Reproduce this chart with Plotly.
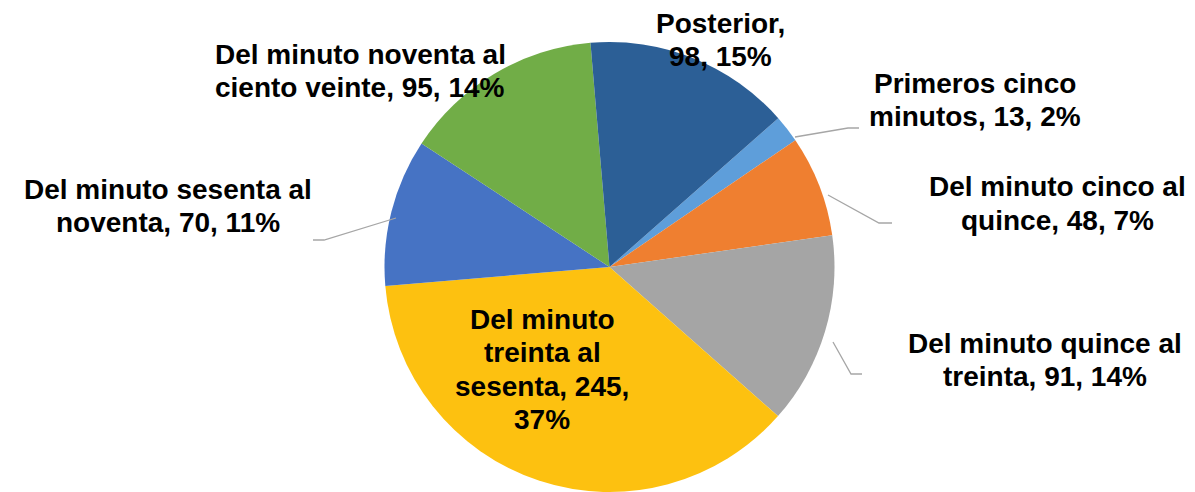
import textwrap
import plotly.graph_objects as go

# ---- data ----
labels = [
    "Primeros cinco minutos",
    "Del minuto cinco al quince",
    "Del minuto quince al treinta",
    "Del minuto treinta al sesenta",
    "Del minuto sesenta al noventa",
    "Del minuto noventa al ciento veinte",
    "Posterior",
]
values = [13, 48, 91, 245, 70, 95, 98]
colors = ["#5E9EDA", "#EF7F30", "#A5A5A5", "#FDC110", "#4673C4", "#71AD47", "#2C5F96"]

# ---- layout params ----
W, H = 1195, 492
wrap_width = [15, 19, 20, 13, 21, 22, 10]
# (center x, first line center y) in pixels
label_pos = [(967, 84), (1049, 188), (1037, 344), (534, 320), (160, 190), (352, 55), (712, 24)]
line_step = 33.5
y_fix = -9  # offset between plotly "middle" anchor and visual text center
leaders = {
    0: [(787, 129), (840, 120), (851, 120)],
    1: [(820, 187), (871, 215), (884, 215)],
    2: [(825, 334), (843, 366), (854, 366)],
    4: [(388, 210), (316, 232), (305, 232)],
}
pie_box = (376, 827, 34, 484)  # left, right, top, bottom in px

total = sum(values)
pcts = [round(v / total * 100) for v in values]

def px(x, y):
    return x / W, 1 - y / H

L, R, T, B = pie_box
fig = go.Figure(go.Pie(
    labels=labels,
    values=values,
    sort=False,
    direction="clockwise",
    rotation=48.6,
    marker=dict(colors=colors, line=dict(width=0)),
    textinfo="none",
    hoverinfo="label+value+percent",
    domain=dict(x=[L / W, R / W], y=[1 - B / H, 1 - T / H]),
    showlegend=False,
))

font = dict(family="Liberation Sans, Arial, sans-serif", size=28, color="#000000")
annotations = []
for i, (lab, v, p) in enumerate(zip(labels, values, pcts)):
    lines = textwrap.wrap(f"{lab}, {v}, {p}%", wrap_width[i])
    cx, cy = label_pos[i]
    for k, line in enumerate(lines):
        x, y = px(cx, cy + k * line_step + y_fix)
        annotations.append(dict(
            x=x, y=y, xref="paper", yref="paper", text=f"<b>{line}</b>",
            showarrow=False, xanchor="center", yanchor="middle", align="center",
            font=font,
        ))

shapes = []
for i, pts in leaders.items():
    path = ""
    for k, (a, b) in enumerate(pts):
        xx, yy = px(a, b)
        path += ("M" if k == 0 else "L") + f"{xx},{yy} "
    shapes.append(dict(type="path", path=path.strip(), xref="paper", yref="paper",
                       line=dict(color="#A6A6A6", width=1.3)))

fig.update_layout(
    width=W, height=H,
    margin=dict(l=0, r=0, t=0, b=0),
    paper_bgcolor="white",
    plot_bgcolor="white",
    annotations=annotations,
    shapes=shapes,
)

fig.write_html("out.html")
